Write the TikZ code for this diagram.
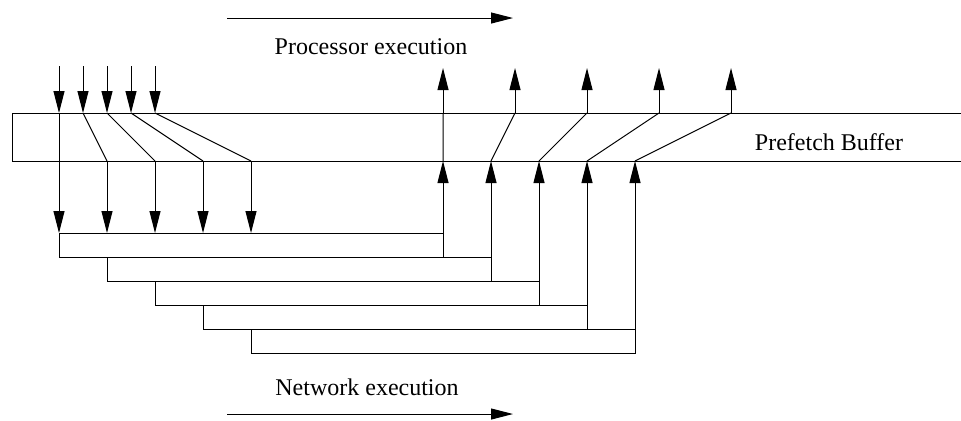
\documentclass[tikz,border=0pt]{standalone}
\usepackage{fontspec}
\setmainfont{Liberation Serif}
\usetikzlibrary{arrows.meta}
\begin{document}
\begin{tikzpicture}[x=0.5pt,y=-0.5pt,line width=0.5pt,>={Triangle[length=11pt,width=5.5pt]},font=\fontsize{12}{14}\selectfont]
        \useasboundingbox (0,0) rectangle (961,420);
        % directions of execution
        \draw[->] (227,18)--(513,18) ;
        \node (procexec) [anchor=base] at (371,54) {Processor execution};
        \node (netexec) [anchor=base] at (367,395) {Network execution};
        \draw[->] (227,414)--(513,414) ;
        % prefetch buffer
        \draw (961,113)--(12,113)--(12,161)--(961,161) ;
        \node (prefetch) [anchor=base] at (829,150) {Prefetch Buffer};
        % requests from the processor
        \draw[->] (59,66)--(59,113) ;
        \draw[->] (83,66)--(83,113) ;
        \draw[->] (107,66)--(107,113) ;
        \draw[->] (131,66)--(131,113) ;
        \draw[->] (155,66)--(155,113) ;
        \draw (83,113)--(107,161) (107,113)--(155,161) (131,113)--(203,161) (155,113)--(251,161) ;
        \draw[->] (59,113)--(59,233) ;
        \draw[->] (107,161)--(107,233) ;
        \draw[->] (155,161)--(155,233) ;
        \draw[->] (203,161)--(203,233) ;
        \draw[->] (251,161)--(251,233) ;
        % network transfers
        \draw (59,233) rectangle (443,257) ;
        \draw (107,257) rectangle (491,281) ;
        \draw (155,281) rectangle (539,305) ;
        \draw (203,305) rectangle (587,329) ;
        \draw (251,329) rectangle (635,353) ;
        \draw[->] (443,233)--(443,161) ;
        \draw[->] (491,257)--(491,161) ;
        \draw[->] (539,281)--(539,161) ;
        \draw[->] (587,305)--(587,161) ;
        \draw[->] (635,329)--(635,161) ;
        % data delivered to the processor
        \draw (443,161)--(443,113) (491,161)--(515,113) (539,161)--(587,113)
        (587,161)--(659,113) (635,161)--(731,113) ;
        \draw[->] (443,113)--(443,68) ;
        \draw[->] (515,113)--(515,68) ;
        \draw[->] (587,113)--(587,68) ;
        \draw[->] (659,113)--(659,68) ;
        \draw[->] (731,113)--(731,68) ;
\end{tikzpicture}
\end{document}
